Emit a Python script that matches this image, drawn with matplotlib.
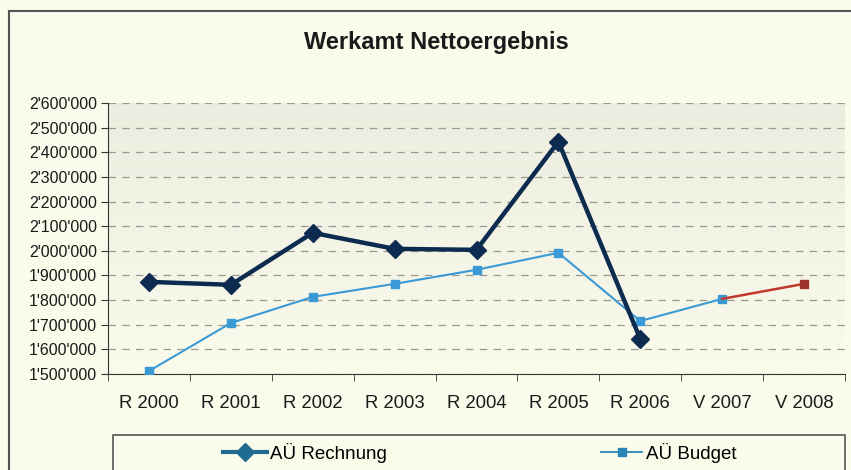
import numpy as np
import matplotlib
matplotlib.use('Agg')
import matplotlib.pyplot as plt
from matplotlib.lines import Line2D
from matplotlib.patches import Rectangle
from matplotlib.ticker import FuncFormatter

categories = ["R 2000", "R 2001", "R 2002", "R 2003", "R 2004",
              "R 2005", "R 2006", "V 2007", "V 2008"]
rechnung = [1874000, 1862000, 2073000, 2008000, 2004000, 2443000, 1642000]
budget = [1512000, 1707000, 1813000, 1866000, 1923000, 1992000, 1715000, 1805000, 1866000]

plt.rcParams['font.family'] = ['Liberation Sans', 'DejaVu Sans']

bg = '#fbfbec'
fig = plt.figure(figsize=(8.51, 4.70), dpi=100, facecolor=bg)
ax = fig.add_axes([108/851, 1 - 374/470, 737/851, 271/470])

x = np.arange(len(categories))

# plot area gradient (greyish top -> cream bottom)
grad = np.linspace(0, 1, 100).reshape(-1, 1)
ax.imshow(grad, extent=(-0.5, 8.5, 1500000, 2600000), aspect='auto',
          cmap=matplotlib.colors.LinearSegmentedColormap.from_list('g', ['#fbfbec', '#ecece0']),
          origin='lower', zorder=0)

ax.plot(x[:8], budget[:8], color='#3a9ad6', lw=1.5, marker='s', ms=6, zorder=3)
ax.plot(x[7:9], budget[7:9], color='#c0392b', lw=1.8, zorder=3)
ax.plot(x[8], budget[8], color='#a0302a', marker='s', ms=6, ls='none', zorder=4)
ax.plot(x[:7], rechnung, color='#0c2b4f', lw=3.2, marker='D', ms=9, zorder=5)

ax.set_xlim(-0.5, 8.5)
ax.set_ylim(1500000, 2600000)
ax.set_yticks(np.arange(1500000, 2600001, 100000))
ax.yaxis.set_major_formatter(FuncFormatter(lambda v, p: "{:,}".format(int(v)).replace(",", "'")))
ax.set_xticks(x)
ax.set_xticklabels(categories)
ax.set_xticks(np.arange(-0.5, 9, 1), minor=True)
ax.tick_params(axis='x', which='major', length=0, pad=15, labelsize=13.3, labelcolor='#1a1a1a')
ax.tick_params(axis='x', which='minor', length=5, direction='out', color='#333333')
ax.tick_params(axis='y', length=5, direction='out', labelsize=11.5, pad=3, color='#333333',
               labelcolor='#1a1a1a')
ax.grid(axis='y', ls=(0, (6, 5)), color='#999990', lw=0.9)
ax.set_axisbelow(True)
for s in ['top', 'right']:
    ax.spines[s].set_visible(False)
ax.spines['left'].set_color('#333333')
ax.spines['bottom'].set_color('#333333')

fig.text(436/851, 1 - 42/470, "Werkamt Nettoergebnis", ha='center', va='center',
         fontsize=17, fontweight='bold', color='#1a1a1a')

# outer frame
fig.add_artist(Line2D([9/851, 9/851], [0, 1 - 11/470], color='#555555', lw=1.5))
fig.add_artist(Line2D([9/851, 1], [1 - 11/470, 1 - 11/470], color='#555555', lw=1.5))

# legend box
fig.add_artist(Rectangle((113/851, -0.01), 732/851, 0.01 + 1 - 435/470,
                         fill=False, ec='#555555', lw=1.2))
h1 = Line2D([], [], color='#1f6a8f', lw=3, marker='D', ms=9)
h2 = Line2D([], [], color='#2a85b8', lw=1.3, marker='s', ms=6)
fig.legend([h1], ["AÜ Rechnung"], loc='center left', bbox_to_anchor=(223/851, 1 - 453/470),
           frameon=False, fontsize=13.5, handlelength=2.35, handletextpad=0.15,
           borderpad=0, borderaxespad=0)
fig.legend([h2], ["AÜ Budget"], loc='center left', bbox_to_anchor=(601/851, 1 - 453/470),
           frameon=False, fontsize=13.5, handlelength=2.2, handletextpad=0.2,
           borderpad=0, borderaxespad=0)

fig.savefig("out.png", dpi=100, facecolor=bg)
